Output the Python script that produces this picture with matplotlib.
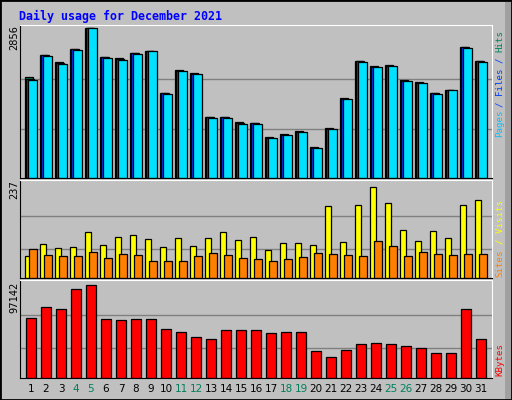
import matplotlib.pyplot as plt
import numpy as np

days = np.arange(1, 32)
hits = [1918, 2346, 2210, 2462, 2856, 2307, 2288, 2385, 2424, 1627, 2054, 1996,
        1166, 1166, 1068, 1049, 777, 835, 894, 583, 952, 1515, 2229, 2132, 2152,
        1860, 1821, 1627, 1685, 2501, 2229]
pages = [1866, 2326, 2171, 2443, 2856, 2288, 2249, 2365, 2424, 1607, 2035, 1976,
         1146, 1146, 1030, 1030, 758, 816, 874, 563, 932, 1496, 2210, 2113, 2132,
         1840, 1801, 1607, 1685, 2482, 2210]
files = [(h + p) / 2 for h, p in zip(hits, pages)]
visits = [57, 88, 77, 80, 119, 85, 106, 111, 101, 80, 103, 82, 103, 119, 98, 106,
          72, 90, 90, 85, 186, 93, 189, 237, 194, 126, 95, 121, 103, 191, 202]
sites = [75, 59, 57, 57, 67, 52, 62, 59, 44, 44, 44, 57, 64, 59, 52, 49, 44, 49,
         54, 64, 62, 59, 57, 95, 82, 57, 67, 62, 59, 62, 62]
kbytes = [62553, 74296, 72161, 92443, 96713, 61486, 60418, 61486, 61486, 50810,
          47607, 42269, 41201, 49742, 49742, 49742, 46539, 47607, 47607, 28390,
          21984, 29458, 35864, 36931, 35864, 33728, 31593, 26255, 26255, 72161, 41201]
weekend = {4, 5, 11, 12, 18, 19, 25, 26}

BG = '#C0C0C0'
W, H = 512, 400
MONO = 'DejaVu Sans Mono'
fig = plt.figure(figsize=(5.12, 4.0), dpi=100, facecolor=BG)
fig.patches.append(plt.Rectangle((505 / W, 0), 7 / W, 1, transform=fig.transFigure,
                                 fc='#A0A0A0', ec='none'))
fig.patches.append(plt.Rectangle((0, 0), 1, 1, transform=fig.transFigure,
                                 fill=False, ec='black', lw=2))
fig.text(19 / W, 1 - 16 / H, 'Daily usage for December 2021', color='#0000FF',
         family=MONO, weight='bold', fontsize=8.4, va='center')

xl = (1 - 0.4 - 5 / 15, 1 - 0.4 - 5 / 15 + 472 / 15)


def panel(top, bottom, ymax, grid):
    ax = fig.add_axes([20 / W, 1 - bottom / H, 472 / W, (bottom - top) / H])
    ax.set_facecolor(BG)
    ax.set_xlim(*xl)
    ax.set_ylim(0, ymax)
    for g in grid:
        ax.axhline(g, color='#808080', lw=1, zorder=0)
    ax.set_xticks([])
    ax.set_yticks([])
    for s in ax.spines.values():
        s.set_color('black')
    ax.spines['right'].set_color('white')
    ax.spines['top'].set_color('white')
    return ax


def side(y, s, color):
    fig.text(500 / W, 1 - y / H, s, color=color, rotation=90, fontsize=6.6,
             family=MONO, ha='center', va='center')


kw = dict(align='edge', edgecolor='black', linewidth=0.9)
# top panel
ax1 = panel(25, 178, 2856 / 0.98, [2856 * 0.66, 2856 * 0.325])
ax1.bar(days - 0.4, hits, 0.53, color='#00805C', **kw)
ax1.bar(days - 0.33, files, 0.53, color='#0040FF', **kw)
ax1.bar(days - 0.2, pages, 0.6, color='#00E0FF', **kw)
fig.text(14 / W, 1 - 38 / H, '2856', rotation=90, fontsize=7.5, family=MONO,
         ha='center', va='center')
side(123, 'Pages', '#00C0FF')
side(82, '/ Files /', '#0040FF')
side(41, 'Hits', '#00805C')

# middle panel
ax2 = panel(180, 278, 237 / 0.93, [237 * 0.68, 237 * 0.32])
ax2.bar(days - 0.4, visits, 0.4, color='#FFFF00', **kw)
ax2.bar(days - 0.13, sites, 0.5, color='#FF8000', **kw)
fig.text(14 / W, 1 - 190 / H, '237', rotation=90, fontsize=7.5, family=MONO,
         ha='center', va='center')
side(263, 'Sites', '#FF8000')
side(222, '/ Visits', '#FFFF00')

# bottom panel
ax3 = panel(280, 378, 97142 / 0.95, [97142 * 0.68, 97142 * 0.32])
ax3.bar(days - 0.35, kbytes, 0.7, color='#FF0000', **kw)
fig.text(14 / W, 1 - 297 / H, '97142', rotation=90, fontsize=7.5, family=MONO,
         ha='center', va='center')
side(359, 'KBytes', '#FF0000')

for d in days:
    xf = (20 + (d - xl[0]) * 15) / W
    fig.text(xf, 1 - 389 / H, str(d), color='#00805C' if d in weekend else 'black',
             fontsize=7.5, family='DejaVu Sans', ha='center', va='center')

fig.savefig('out.png', dpi=100, facecolor=BG)
